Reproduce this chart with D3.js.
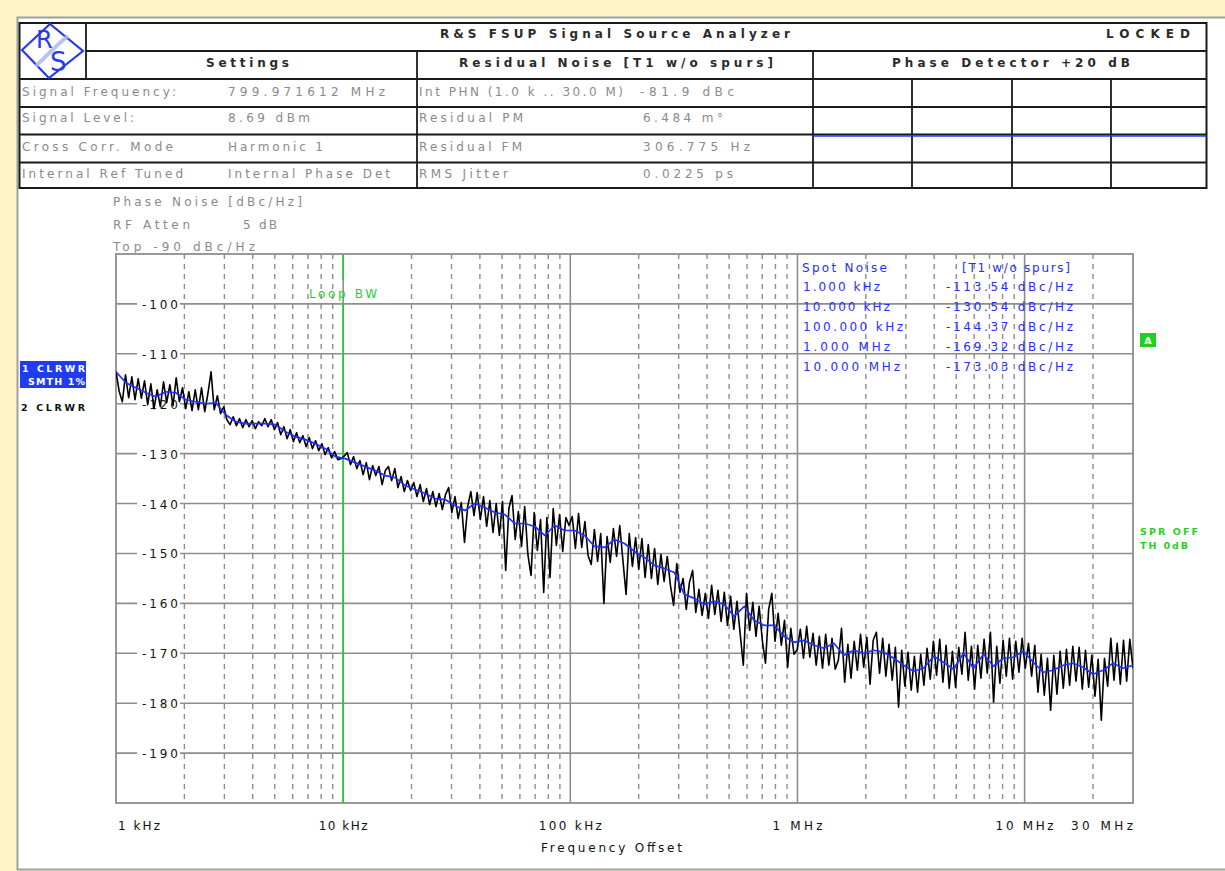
<!DOCTYPE html>
<html><head><meta charset="utf-8">
<script src="https://cdn.jsdelivr.net/npm/d3@7"></script>
<style>
html,body{margin:0;padding:0;background:#fdf3c7;}
svg{display:block;}
text{font-family:"DejaVu Sans",Verdana,sans-serif;}
</style></head><body>
<svg id="chart" width="1225" height="871"></svg>
<script>
// ---- sweep: 1 kHz .. 30 MHz, log-spaced points ----
const startHz = 1e3, stopHz = 30e6;

// raw phase-noise trace (trace 2, CLRWR), dBc/Hz
const rawTrace = [
-113.5,-117.5,-119.6,-114.2,-118.8,-114.6,-119.2,-115.0,-118.9,-115.4,
-120.2,-116.0,-121.0,-117.2,-120.6,-115.6,-119.8,-116.2,-120.4,-114.8,
-119.6,-116.8,-121.0,-117.6,-121.4,-117.2,-121.2,-116.8,-121.6,-118.0,
-113.6,-121.2,-118.4,-122.0,-120.6,-123.2,
-124.2,-122.6,-124.4,-123.0,-124.8,-123.2,-124.6,-123.4,-125.0,-123.6,
-124.4,-123.0,-124.6,-123.2,-125.2,-123.8,-126.2,-124.6,-127.0,-125.2,
-127.6,-125.8,-127.8,-126.4,-128.6,-126.8,-129.0,-127.4,-129.4,-128.0,
-130.2,-128.8,-130.8,-129.6,-131.2,
-131.0,-130.5,-129.8,-132.2,-130.6,-133.0,-131.4,-134.2,-131.8,-135.2,
-132.4,-134.4,-132.6,-136.2,-133.4,-132.6,-135.4,-133.0,-136.8,-134.6,
-137.6,-135.4,-137.4,-135.8,-138.6,-136.2,-139.6,-137.0,-140.2,-137.6,
-140.6,-138.0,-141.2,-138.2,-136.8,
-141.8,-138.6,-143.0,-139.8,-147.8,-140.6,-137.6,-142.4,-137.8,-143.2,
-138.6,-144.6,-139.4,-145.8,-140.0,-146.4,-139.6,-153.4,-141.0,-138.4,
-147.2,-141.6,-148.6,-140.6,-150.2,-154.4,-141.8,-149.4,-143.2,-157.8,
-142.8,-154.8,-141.0,-148.4,-142.2,-149.6,-142.8,-144.4,-142.6,-149.0,
-142.0,-148.8,-143.6,-150.4,-152.2,-145.2,-151.6,-146.0,-160.0,-146.6,
-151.8,-145.0,-150.6,-144.4,-151.4,-158.2,-146.0,-152.6,-146.8,-153.2,
-147.0,-154.8,-148.2,-155.0,-149.0,-156.2,-150.2,-155.6,-150.6,-156.4,
-160.4,-152.0,-157.8,-155.0,-161.2,-155.8,-153.4,-161.8,-157.2,-162.4,
-158.0,-163.0,-156.4,-162.2,-157.4,-163.6,-157.8,-164.4,-158.6,-165.2,
-159.6,-166.0,-172.4,-158.0,-165.4,-159.8,-166.6,-160.6,-167.4,-172.0,
-161.2,-158.0,-167.6,-162.0,-168.4,-163.4,-172.8,-165.0,-170.2,-169.3,
-165.2,-171.0,-164.6,-170.8,-166.0,-172.4,-166.6,-173.0,-166.2,-172.4,
-167.0,-173.2,-171.4,-165.0,-175.8,-168.2,-175.0,-167.6,-173.4,-166.2,
-172.8,-166.8,-176.2,-167.4,-165.8,-174.0,-167.0,-174.6,-168.2,-175.4,
-168.8,-180.8,-169.4,-176.6,-169.8,-177.4,-170.6,-177.8,-170.2,-176.4,
-169.0,-175.2,-167.6,-174.4,-167.2,-175.8,-168.4,-177.0,-169.6,-176.8,
-168.8,-174.2,-165.8,-175.4,-168.6,-177.2,-168.4,-175.0,-167.2,-174.0,
-165.8,-179.8,-168.6,-176.0,-167.4,-174.6,-167.0,-175.2,-167.6,-173.8,
-167.0,-173.0,-168.0,-174.6,-168.4,-177.8,-170.2,-178.4,-171.0,-181.4,
-170.4,-178.2,-169.6,-177.0,-169.2,-176.4,-168.6,-175.6,-168.8,-177.2,
-169.4,-176.8,-170.4,-178.6,-171.2,-183.4,-171.0,-176.6,-167.0,-175.4,
-168.0,-176.2,-167.4,-175.6,-167.2,-173.0
];

// smoothed trace (trace 1, SMTH 1%), dBc/Hz
const smoothTrace = [
-113.6,-115.8,-116.8,-117.8,-118.6,-117.6,-117.8,-119.2,-119.6,-120.0,
-119.8,-122.2,-123.6,-124.0,-124.0,-124.0,-124.2,-125.6,-126.6,-127.2,
-128.0,-129.0,-130.6,-131.0,-131.8,-132.6,-133.4,-134.4,-134.8,-136.4,
-137.2,-138.0,-139.0,-139.2,-140.4,-141.4,-140.0,-140.8,-141.8,-142.2,
-144.0,-144.0,-144.6,-146.4,-144.4,-145.4,-145.4,-146.4,-148.6,-148.8,
-147.2,-148.0,-149.6,-150.8,-152.4,-153.0,-153.8,-158.2,-159.0,-160.2,
-159.6,-160.2,-162.6,-160.6,-163.4,-164.4,-164.4,-166.6,-167.8,-167.4,
-168.4,-169.0,-168.0,-170.4,-169.4,-170.0,-169.4,-169.8,-171.0,-172.4,
-173.6,-173.0,-170.6,-171.8,-173.2,-170.0,-173.0,-170.2,-172.6,-171.0,
-170.8,-169.6,-171.8,-173.8,-173.4,-172.4,-172.0,-172.8,-174.2,-173.4,
-172.0,-173.0,-172.4
];

// axis ticks
const yTicks = [-100,-110,-120,-130,-140,-150,-160,-170,-180,-190];
const decadeLines = [1e4, 1e5, 1e6, 1e7];
const xLabels = [
  {f:1e3, text:"1 kHz", anchor:"start", w:42},
  {f:1e4, text:"10 kHz", anchor:"middle", w:49},
  {f:1e5, text:"100 kHz", anchor:"middle", w:63},
  {f:1e6, text:"1 MHz", anchor:"middle", w:50},
  {f:1e7, text:"10 MHz", anchor:"middle", w:58},
  {f:3e7, text:"30 MHz", anchor:"end", w:62}
];
const loopBwHz = 1e4;

// spot noise table
const spotFreqs = ["1.000 kHz","10.000 kHz","100.000 kHz","1.000 MHz","10.000 MHz"];
const spotValues = [-113.54,-130.54,-144.37,-169.32,-173.03];

// header table content
const settingsLabels = ["Signal Frequency:","Signal Level:","Cross Corr. Mode","Internal Ref Tuned"];
const settingsValues = ["799.971612 MHz","8.69 dBm","Harmonic 1","Internal Phase Det"];
const residualLabels = ["Int PHN (1.0 k .. 30.0 M)","Residual PM","Residual FM","RMS Jitter"];
const residualValues = ["-81.9 dBc","6.484 m°","306.775 Hz","0.0225 ps"];

const W = 1225, H = 871;
const svg = d3.select("#chart");

// text helper: fixed run length, spacing adjusted
function txt(g, x, y, t, w, opts) {
  const o = Object.assign({size: 12, fill: "#111", anchor: "start", weight: "normal"}, opts || {});
  const el = g.append("text").attr("x", x).attr("y", y).text(t)
    .attr("font-size", o.size).attr("fill", o.fill).attr("text-anchor", o.anchor)
    .attr("font-weight", o.weight);
  if (w) el.attr("textLength", w).attr("lengthAdjust", "spacing");
  return el;
}

// page background and instrument window
svg.append("rect").attr("width", W).attr("height", H).attr("fill", "#fdf3c7");
svg.append("rect").attr("x", 17.5).attr("y", 17.5).attr("width", W).attr("height", H - 19)
  .attr("fill", "#fff").attr("stroke", "#a0a0a0").attr("stroke-width", 2);

// ---- header table ----
const hdr = svg.append("g");
const rowY = [23, 51, 79, 107, 134.5, 162.5, 188];
const tL = 19.5, tR = 1206.5;
hdr.append("rect").attr("x", tL).attr("y", rowY[0]).attr("width", tR - tL).attr("height", rowY[6] - rowY[0])
  .attr("fill", "none").attr("stroke", "#1a1a1a").attr("stroke-width", 2);
hdr.append("line").attr("x1", 86).attr("x2", tR).attr("y1", rowY[1]).attr("y2", rowY[1]);
[2,3,4,5].forEach(r => hdr.append("line").attr("x1", tL).attr("x2", tR).attr("y1", rowY[r]).attr("y2", rowY[r]));
hdr.append("line").attr("x1", 86).attr("x2", 86).attr("y1", rowY[0]).attr("y2", rowY[2]);
[417, 813].forEach(x => hdr.append("line").attr("x1", x).attr("x2", x).attr("y1", rowY[1]).attr("y2", rowY[6]));
[912, 1012, 1111].forEach(x => hdr.append("line").attr("x1", x).attr("x2", x).attr("y1", rowY[2]).attr("y2", rowY[6]));
hdr.selectAll("line").attr("stroke", "#1a1a1a").attr("stroke-width", 1.8);
// phase detector level line
hdr.append("line").attr("x1", 813).attr("x2", tR).attr("y1", 136).attr("y2", 136)
  .attr("stroke", "#1f3cff").attr("stroke-width", 1.6);

// logo
const logo = hdr.append("g");
logo.append("path").attr("d", "M22,50 L50,24 L83,51 L49,78 Z")
  .attr("fill", "none").attr("stroke", "#2a3ae8").attr("stroke-width", 2.2);
logo.append("path").attr("d", "M36,66 C45,58 55,46 68,36")
  .attr("fill", "none").attr("stroke", "#a9b6f3").attr("stroke-width", 4).attr("opacity", 0.85);
logo.append("text").attr("x", 36).attr("y", 48).text("R")
  .attr("font-size", 24).attr("fill", "#2a3ae8");
logo.append("text").attr("x", 50).attr("y", 71).text("S")
  .attr("font-size", 26).attr("fill", "#2a3ae8");

const hb = {weight: "bold", fill: "#2a2a2a"};
txt(hdr, 440, 38, "R&S FSUP Signal Source Analyzer", 350, hb);
txt(hdr, 1106, 38, "LOCKED", 84, hb);
txt(hdr, 206, 67, "Settings", 83, hb);
txt(hdr, 459, 67, "Residual Noise [T1 w/o spurs]", 314, hb);
txt(hdr, 892, 67, "Phase Detector +20 dB", 238, hb);

const rowText = [96, 122, 150.5, 177.5];
const gray = {fill: "#8a8a8a"};
const settingsLabelW = [154, 112, 151, 161];
const settingsValueW = [157, 82, 95, 162];
const residualLabelW = [204, 104, 103, 89];
const residualValueW = [94, 80, 107, 90];
settingsLabels.forEach((t, i) => txt(hdr, 22, rowText[i], t, settingsLabelW[i], gray));
settingsValues.forEach((t, i) => txt(hdr, 228, rowText[i], t, settingsValueW[i], gray));
residualLabels.forEach((t, i) => txt(hdr, 419, rowText[i], t, residualLabelW[i], gray));
residualValues.forEach((t, i) => txt(hdr, i === 0 ? 640 : 643, rowText[i], t, residualValueW[i], gray));

// ---- plot area ----
const x = d3.scaleLog().domain([startHz, stopHz]).range([116, 1133]);
const y = d3.scaleLinear().domain([-200, -90]).range([803, 254]);
const plot = svg.append("g");

// measurement info above the grid
txt(plot, 113, 206, "Phase Noise [dBc/Hz]", 189, gray);
txt(plot, 113, 229, "RF Atten", 77, gray);
txt(plot, 243, 229, "5 dB", 34, gray);
txt(plot, 113, 251, "Top -90 dBc/Hz", 142, gray);

const gridColor = "#8e8e8e";
// minor (dashed) frequency lines
const minor = [];
[1e3, 1e4, 1e5, 1e6, 1e7].forEach(d => { for (let k = 2; k <= 9; k++) { if (d * k < stopHz) minor.push(d * k); } });
plot.selectAll(".minor").data(minor).join("line")
  .attr("x1", d => x(d)).attr("x2", d => x(d)).attr("y1", y(-90)).attr("y2", y(-200))
  .attr("stroke", gridColor).attr("stroke-width", 1.4).attr("stroke-dasharray", "5,5");
// decade lines
plot.selectAll(".major").data(decadeLines).join("line")
  .attr("x1", d => x(d)).attr("x2", d => x(d)).attr("y1", y(-90)).attr("y2", y(-200))
  .attr("stroke", gridColor).attr("stroke-width", 1.6);
// level lines
plot.selectAll(".hgrid").data(yTicks).join("line")
  .attr("x1", x(startHz)).attr("x2", x(stopHz)).attr("y1", d => y(d)).attr("y2", d => y(d))
  .attr("stroke", gridColor).attr("stroke-width", 1.6);
// frame
plot.append("rect").attr("x", x(startHz)).attr("y", y(-90)).attr("width", x(stopHz) - x(startHz))
  .attr("height", y(-200) - y(-90)).attr("fill", "none").attr("stroke", gridColor).attr("stroke-width", 1.8);

// level labels with white backing
yTicks.forEach(d => {
  plot.append("rect").attr("x", 137).attr("y", y(d) - 7).attr("width", 43).attr("height", 14).attr("fill", "#fff");
  txt(plot, 142, y(d) + 5, "-" + Math.abs(d), 36);
});

// frequency labels
xLabels.forEach(d => txt(plot, x(d.f) + (d.anchor === "start" ? 2 : 0), 830, d.text, d.w, {anchor: d.anchor}));
txt(plot, 541, 852, "Frequency Offset", 141);

// loop bandwidth marker
const green = "#1fd21f";
plot.append("line").attr("x1", x(loopBwHz)).attr("x2", x(loopBwHz)).attr("y1", y(-90)).attr("y2", 280)
  .attr("stroke", green).attr("stroke-width", 1.6);
plot.append("line").attr("x1", x(loopBwHz)).attr("x2", x(loopBwHz)).attr("y1", 304).attr("y2", y(-200))
  .attr("stroke", green).attr("stroke-width", 1.6);
txt(plot, 309, 298, "Loop BW", 68, {fill: green});

// spot noise table
const blueTxt = {fill: "#1f2fff"};
const spotFreqW = [77, 87, 100, 87, 97];
txt(plot, 802, 272, "Spot Noise", 85, blueTxt);
txt(plot, 962, 272, "[T1 w/o spurs]", 108, blueTxt);
spotFreqs.forEach((t, i) => txt(plot, 803, 291 + i * 20, t, spotFreqW[i], blueTxt));
spotValues.forEach((v, i) => txt(plot, 946, 291 + i * 20, v.toFixed(2) + " dBc/Hz", 127, blueTxt));

// traces
svg.append("clipPath").attr("id", "plotclip").append("rect")
  .attr("x", x(startHz)).attr("y", y(-90)).attr("width", x(stopHz) - x(startHz)).attr("height", y(-200) - y(-90));
const sweep = n => d3.range(n).map(i => startHz * Math.pow(stopHz / startHz, i / (n - 1)));
const rawF = sweep(rawTrace.length), smF = sweep(smoothTrace.length);
const line = d3.line().x(d => x(d[0])).y(d => y(d[1]));
const traces = svg.append("g").attr("clip-path", "url(#plotclip)");
traces.append("path").datum(rawTrace.map((v, i) => [rawF[i], v])).attr("d", line)
  .attr("fill", "none").attr("stroke", "#000").attr("stroke-width", 1.6).attr("stroke-linejoin", "round");
traces.append("path").datum(smoothTrace.map((v, i) => [smF[i], v])).attr("d", line)
  .attr("fill", "none").attr("stroke", "#1f2fff").attr("stroke-width", 1.7).attr("stroke-linejoin", "round");

// trace status labels (left)
const side = svg.append("g");
const sb = (c) => ({size: 9.5, weight: "bold", fill: c});
side.append("rect").attr("x", 20).attr("y", 361).attr("width", 66).attr("height", 27).attr("fill", "#1f3cf0");
txt(side, 22, 372, "1 CLRWR", 63, sb("#fff"));
txt(side, 28, 385, "SMTH 1%", 57, sb("#fff"));
txt(side, 21, 411, "2 CLRWR", 64, sb("#111"));

// status labels (right)
side.append("rect").attr("x", 1140).attr("y", 333).attr("width", 16).attr("height", 14).attr("fill", green);
txt(side, 1148, 344, "A", null, Object.assign(sb("#fff"), {anchor: "middle"}));
txt(side, 1140, 535, "SPR OFF", 58, sb(green));
txt(side, 1140, 549, "TH 0dB", 48, sb(green));
</script></body></html>
